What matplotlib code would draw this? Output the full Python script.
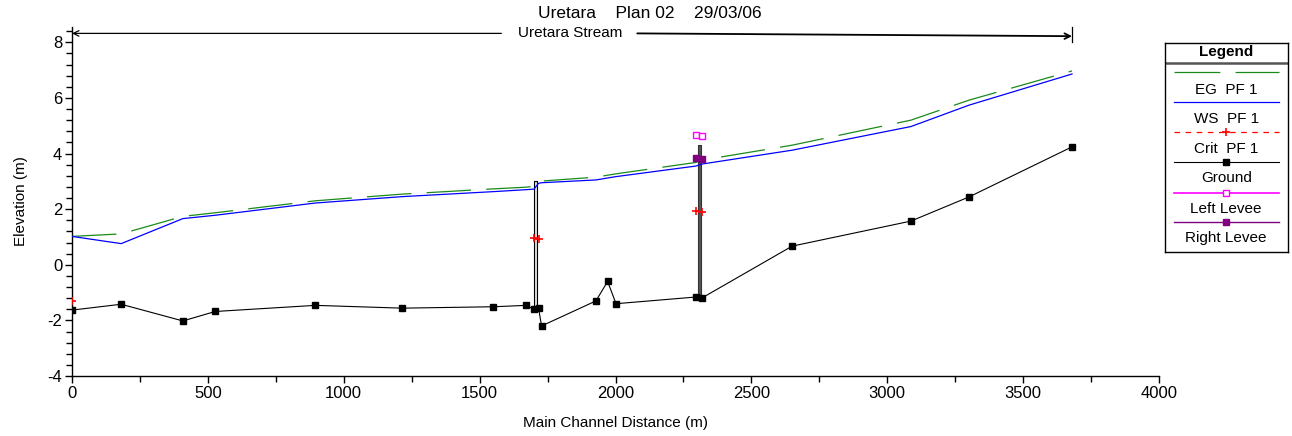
import numpy as np
import matplotlib
matplotlib.use('Agg')
import matplotlib.pyplot as plt
from matplotlib.ticker import MultipleLocator

plt.rcParams['font.family'] = ['Liberation Sans', 'DejaVu Sans']
plt.rcParams['lines.scale_dashes'] = False
plt.rcParams['axes.unicode_minus'] = False

# ---- profile data (main channel distance in m, elevations in m) ----
station = [0, 181, 408, 527, 895, 1215, 1551, 1671, 1700, 1717, 1728,
           1928, 1971, 2002, 2296, 2317, 2650, 3087, 3301, 3680]
ground = [-1.63, -1.42, -2.02, -1.68, -1.46, -1.56, -1.51, -1.46, -1.60, -1.57, -2.20,
          -1.30, -0.60, -1.40, -1.16, -1.20, 0.67, 1.57, 2.44, 4.24]
ws_pf1 = [1.02, 0.76, 1.66, 1.78, 2.22, 2.45, 2.63, 2.70, 2.72, 2.93, 2.95,
          3.05, 3.12, 3.17, 3.55, 3.62, 4.12, 4.97, 5.74, 6.86]
eg_pf1 = [1.02, 1.11, 1.74, 1.87, 2.30, 2.54, 2.73, 2.79, 2.82, 2.99, 3.01,
          3.15, 3.22, 3.27, 3.68, 3.76, 4.30, 5.20, 5.92, 6.97]
nan = np.nan
crit_pf1 = [-1.30, nan, nan, nan, nan, nan, nan, nan, 0.95, 0.92, nan,
            nan, nan, nan, 1.94, 1.88, nan, nan, nan, nan]
left_levee = [nan] * 14 + [4.66, 4.62] + [nan] * 4
right_levee = [nan] * 14 + [3.85, 3.82] + [nan] * 4

# bridges: upstream / downstream face stations, deck top, ground below
bridge_us = [1700, 2302]
bridge_ds = [1712, 2315]
bridge_top = [3.02, 4.31]
bridge_bot = [-1.60, -1.18]

fig = plt.figure(figsize=(12.92, 4.36), dpi=100)
ax = fig.add_axes([72/1292, 1-376/436, (1159-72)/1292, (376-27)/436])

# bridges
ax.fill_between([bridge_us[0], bridge_ds[0]], bridge_bot[0], bridge_top[0],
                facecolor='#e0e0e0', edgecolor='black', linewidth=0.8, zorder=2)
ax.fill_between([bridge_us[1], bridge_ds[1]], bridge_bot[1], bridge_top[1],
                facecolor='#555555', edgecolor='#333333', linewidth=0.8, zorder=2)

ax.plot(station, eg_pf1, color='#1a8a1a', lw=0.9, dashes=(32, 11), zorder=3)
ax.plot(station, ws_pf1, color='#0000ff', lw=0.9, zorder=3)
ax.plot(station, crit_pf1, color='red', lw=0.9, ls=(0, (4, 4)), marker='+',
        ms=6, mew=1.2, zorder=4)
ax.plot(station, ground, color='black', lw=0.8, marker='s', ms=5, zorder=4)
ax.plot(station, left_levee, color='#ff00ff', lw=1.2, marker='s', ms=5,
        mfc='white', mec='#ff00ff', mew=1.0, zorder=5)
ax.plot(station, right_levee, color='#800080', lw=1.0, marker='s', ms=5,
        mfc='#800080', mec='#800080', zorder=5)

# reach arrow
y_arrow = 8.32
x_lab = 1833
ax.annotate('', xy=(station[0], y_arrow), xytext=(1580, y_arrow),
            arrowprops=dict(arrowstyle='->', lw=0.9, color='black',
                            shrinkA=0, shrinkB=0))
ax.annotate('', xy=(station[-1], 8.22), xytext=(2080, y_arrow),
            arrowprops=dict(arrowstyle='->', lw=1.3, color='black',
                            shrinkA=0, shrinkB=0))
ax.plot([station[-1], station[-1]], [8.0, 8.55], color='black', lw=0.9,
        clip_on=False)
ax.text(x_lab, y_arrow, 'Uretara Stream', ha='center', va='center', fontsize=11)

ax.set_xlim(0, 4000)
ax.xaxis.set_major_locator(MultipleLocator(500))
ax.xaxis.set_minor_locator(MultipleLocator(250))
ax.yaxis.set_major_locator(MultipleLocator(2))
ax.yaxis.set_minor_locator(MultipleLocator(0.4))
ax.set_ylim(-4, 8.55)
for s in ['top', 'right']:
    ax.spines[s].set_visible(False)
for s in ['left', 'bottom']:
    ax.spines[s].set_linewidth(1.0)
ax.tick_params(which='major', length=5, width=1.0, labelsize=12, pad=2)
ax.tick_params(which='minor', length=4, width=1.0)
ax.set_xlabel('Main Channel Distance (m)', fontsize=11, labelpad=11)
ax.set_ylabel('Elevation (m)', fontsize=11, labelpad=14)

fig.text(650/1292, 1-14/436, 'Uretara    Plan 02    29/03/06', ha='center',
         va='center', fontsize=12.5)

# ---- legend box ----
lx0, ly0, lw_, lh_ = 1164.7, 42.7, 123.0, 209.0
lax = fig.add_axes([lx0/1292, 1-(ly0+lh_)/436, lw_/1292, lh_/436])
lax.set_xlim(0, lw_)
lax.set_ylim(lh_, 0)
lax.set_xticks([])
lax.set_yticks([])
for s in lax.spines.values():
    s.set_linewidth(1.0)
fs = 11
lax.text(lw_/2, 9.6, 'Legend', ha='center', va='center', fontsize=fs,
         fontweight='bold')
lax.plot([0, lw_], [20.6, 20.6], color='#555555', lw=1.8)
x_a, x_b, x_m = 9, 114, lw_/2
lax.plot([x_a, x_b], [29.6, 29.6], color='#1a8a1a', lw=0.9, dashes=(33, 11))
lax.text(x_m, 47.3, 'EG  PF 1', ha='center', va='center', fontsize=fs)
lax.plot([x_a, x_b], [59.6, 59.6], color='#0000ff', lw=0.9)
lax.text(x_m, 76.3, 'WS  PF 1', ha='center', va='center', fontsize=fs)
lax.plot([x_a, x_b], [89.6, 89.6], color='red', lw=0.9, ls=(0, (4, 4)))
lax.plot([x_m], [89.6], color='red', marker='+', ms=6, mew=1.2)
lax.text(x_m, 106, 'Crit  PF 1', ha='center', va='center', fontsize=fs)
lax.plot([x_a, x_b], [119.6, 119.6], color='black', lw=0.8)
lax.plot([x_m], [119.6], color='black', marker='s', ms=5)
lax.text(x_m, 135, 'Ground', ha='center', va='center', fontsize=fs)
lax.plot([x_a, x_b], [150, 150], color='#ff00ff', lw=1.2)
lax.plot([x_m], [150], marker='s', ms=5, mfc='white', mec='#ff00ff', mew=1.0)
lax.text(x_m, 166.3, 'Left Levee', ha='center', va='center', fontsize=fs)
lax.plot([x_a, x_b], [179.6, 179.6], color='#800080', lw=1.0)
lax.plot([x_m], [179.6], marker='s', ms=5, color='#800080')
lax.text(x_m, 195.6, 'Right Levee', ha='center', va='center', fontsize=fs)

fig.savefig('out.png', dpi=100)
